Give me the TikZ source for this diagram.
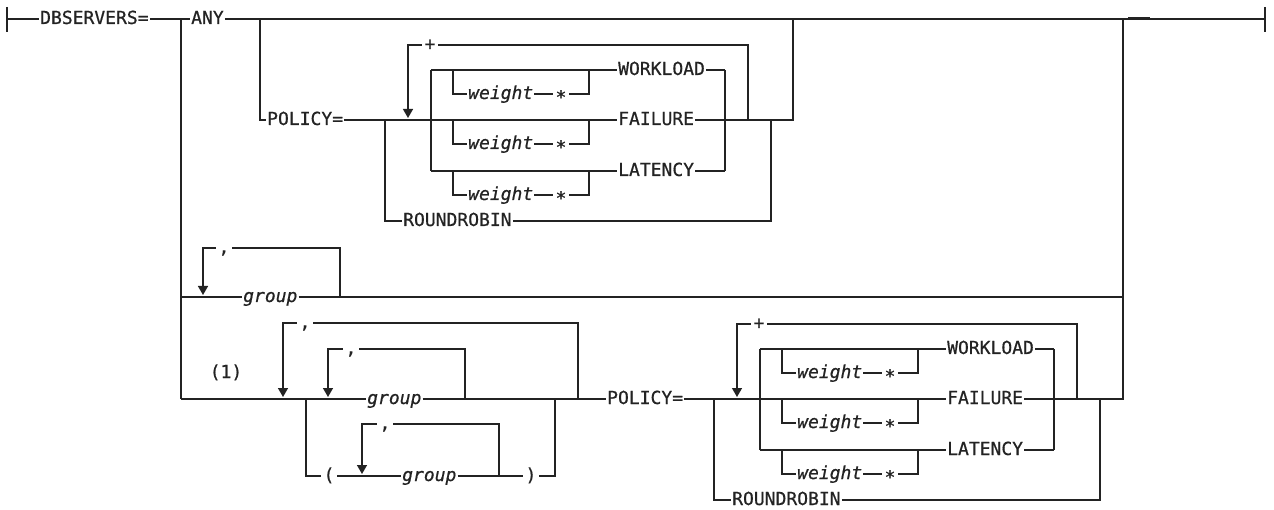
\documentclass[tikz,border=0pt]{standalone}
\usepackage{fontspec}
\setmainfont{DejaVu Sans Mono}[FakeBold=0.7]
\usetikzlibrary{arrows.meta}
\definecolor{ink}{RGB}{35,35,35}
\tikzset{
  lbl/.style={anchor=west, inner xsep=1pt, inner ysep=0pt, text=ink,
    text height=10pt, text depth=0pt,
    font=\fontsize{18pt}{20pt}\selectfont},
  var/.style={lbl, font=\fontsize{18pt}{20pt}\selectfont\itshape},
  sepch/.style={anchor=center, inner xsep=2.5pt, inner ysep=0pt, text=ink,
    text height=10pt, text depth=0pt,
    font=\fontsize{18pt}{20pt}\selectfont},
  rail/.style={draw=ink, line width=1.4pt},
  loopback/.style={rail, -{Triangle[width=10pt,length=9pt]}},
}
\newcommand{\polblock}[1]{%
  \coordinate (#1in) at (385,120);
  \coordinate (#1out) at (771,120);
  \node[lbl] (#1rr) at (402,221) {ROUNDROBIN};
  \draw[rail] (#1in) |- (#1rr.west);
  \draw[rail] (#1rr.east) -| (#1out);
  \foreach \ry/\tx/\nm in {70/WORKLOAD/w,120/FAILURE/f,171/LATENCY/l}{
    \node[lbl] (#1\nm) at (617,\ry) {\tx};
    \node[var] (#1\nm wt) at (467,\ry+24) {weight};
    \node[sepch] (#1\nm st) at (561,\ry+24) {\raisebox{-4.5pt}{*}};
    \coordinate (#1\nm a) at (431,\ry);
    \coordinate (#1\nm b) at (453,\ry);
    \coordinate (#1\nm c) at (589,\ry);
    \coordinate (#1\nm d) at (725,\ry);
    \draw[rail] (#1\nm a) -- (#1\nm.west);
    \draw[rail] (#1\nm.east) -- (#1\nm d);
    \draw[rail] (#1\nm b) |- (#1\nm wt.west);
    \draw[rail] (#1\nm wt.east) -- (#1\nm st.west);
    \draw[rail] (#1\nm st.east) -| (#1\nm c);
  }
  \draw[rail] (#1in) -- (#1fa);
  \draw[rail] (#1wa) -- (#1la);
  \draw[rail] (#1wd) -- (#1ld);
  \draw[rail] (#1fd) -- (#1out);
  \node[sepch] (#1plus) at (430,45) {+};
  \coordinate (#1pr) at (748,120);
  \coordinate (#1pl) at (408,118);
  \draw[rail] (#1pr) |- (#1plus.east);
  \draw[loopback] (#1plus.west) -| (#1pl);
}
\begin{document}
\begin{tikzpicture}[x=1pt,y=-1pt]
\useasboundingbox (0,0) rectangle (1274,510);
% main line
\coordinate (s0) at (7,19);
\coordinate (st) at (7,7);
\coordinate (sb) at (7,32);
\coordinate (e0) at (1265,19);
\coordinate (et) at (1265,7);
\coordinate (eb) at (1265,32);
\node[lbl] (dbs) at (39,19) {DBSERVERS=};
\coordinate (b1) at (181,19);
\node[lbl] (any) at (190,19) {ANY};
\coordinate (b2) at (260,19);
\coordinate (j1) at (793,19);
\coordinate (j2) at (1123,19);
\draw[rail] (st) -- (sb);
\draw[rail] (et) -- (eb);
\draw[rail] (s0) -- (dbs.west);
\draw[rail] (dbs.east) -- (any.west);
\draw[rail] (any.east) -- (e0);
\coordinate (m1) at (1128,18.6);
\coordinate (m2) at (1150,18.6);
\draw[ink, line width=2.2pt] (m1) -- (m2);
% upper policy
\node[lbl] (pol1) at (266,120) {POLICY=};
\draw[rail] (b2) |- (pol1.west);
\polblock{u}
\draw[rail] (pol1.east) -- (uin);
\draw[rail] (uout) -| (j1);
% group row
\coordinate (g0) at (181,297);
\coordinate (g1) at (340,297);
\coordinate (g2) at (1123,297);
\coordinate (g3) at (203,295);
\node[var] (grp1) at (242,297) {group};
\draw[rail] (g0) -- (grp1.west);
\draw[rail] (grp1.east) -- (g2);
\node[sepch] (c1) at (224,248) {,};
\draw[rail] (g1) |- (c1.east);
\draw[loopback] (c1.west) -| (g3);
% lower row
\coordinate (b3) at (181,399);
\draw[rail] (b1) -- (b3);
\coordinate (k1) at (306,399);
\coordinate (k2) at (465,399);
\coordinate (k3) at (555,399);
\coordinate (k4) at (578,399);
\coordinate (a2) at (283,397);
\coordinate (a3) at (328,397);
\node[var] (grp2) at (366,399) {group};
\node[lbl] (pol2) at (606,399) {POLICY=};
\draw[rail] (b3) -- (grp2.west);
\draw[rail] (grp2.east) -- (pol2.west);
\node[sepch] (c2) at (305,323) {,};
\draw[rail] (k4) |- (c2.east);
\draw[loopback] (c2.west) -| (a2);
\node[sepch] (c3) at (351,349) {,};
\draw[rail] (k2) |- (c3.east);
\draw[loopback] (c3.west) -| (a3);
% parenthesised list
\node[sepch] (lp) at (329,476) {(};
\node[var] (grp3) at (401,476) {group};
\node[sepch] (rp) at (531,476) {)};
\coordinate (k5) at (499,476);
\coordinate (a4) at (362,474);
\draw[rail] (k1) |- (lp.west);
\draw[rail] (lp.east) -- (grp3.west);
\draw[rail] (grp3.east) -- (rp.west);
\draw[rail] (rp.east) -| (k3);
\node[sepch] (c4) at (385,424) {,};
\draw[rail] (k5) |- (c4.east);
\draw[loopback] (c4.west) -| (a4);
\node[lbl, anchor=center] (note) at (226,373) {(1)};
% lower policy
\begin{scope}[shift={(329,279)}]
\polblock{l}
\end{scope}
\draw[rail] (pol2.east) -- (lin);
\draw[rail] (lout) -| (j2);
\end{tikzpicture}
\end{document}
